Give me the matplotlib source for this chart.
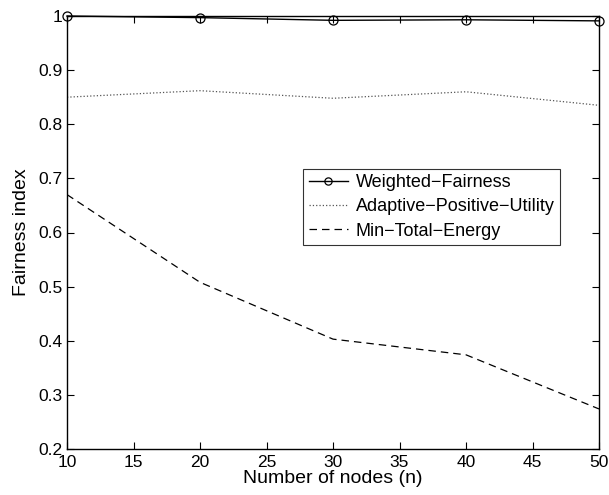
import matplotlib
matplotlib.use("Agg")
import matplotlib.pyplot as plt

plt.rcParams['font.family'] = ['Liberation Sans', 'DejaVu Sans']

# data
nodes = [10, 20, 30, 40, 50]
weighted_fairness = [1.0, 0.997, 0.992, 0.993, 0.991]
adaptive_utility = [0.850, 0.862, 0.848, 0.860, 0.835]
min_energy = [0.670, 0.508, 0.403, 0.374, 0.274]

fig = plt.figure(figsize=(6.09, 4.95), dpi=100)
ax = fig.add_axes([67 / 609, 46 / 495, 532 / 609, 433 / 495])

ax.plot(nodes, weighted_fairness, '-', color='black', lw=1.0, marker='o',
        markersize=6.5, markerfacecolor='none', markeredgewidth=0.9,
        label='Weighted\u2212Fairness', clip_on=False, zorder=3)
ax.plot(nodes, adaptive_utility, ':', color='#555555', lw=0.9,
        label='Adaptive\u2212Positive\u2212Utility')
ax.plot(nodes, min_energy, '--', color='black', lw=0.9,
        dashes=(6, 4), label='Min\u2212Total\u2212Energy')

ax.set_xlim(10, 50)
ax.set_ylim(0.2, 1.0)
ax.set_xticks(range(10, 51, 5))
ax.set_yticks([0.2, 0.3, 0.4, 0.5, 0.6, 0.7, 0.8, 0.9, 1.0])
ax.set_yticklabels(['0.2', '0.3', '0.4', '0.5', '0.6', '0.7', '0.8', '0.9', '1'])
ax.tick_params(direction='in', top=True, right=True, length=5, width=0.8,
               labelsize=12.5)
ax.tick_params(axis='x', pad=4)
ax.tick_params(axis='y', pad=3)
for s in ax.spines.values():
    s.set_linewidth(1.0)

ax.set_xlabel('Number of nodes (n)', fontsize=14, labelpad=0)
ax.set_ylabel('Fairness index', fontsize=14, labelpad=6)

leg = ax.legend(loc='upper left', bbox_to_anchor=(0.444, 0.647), fontsize=13,
                frameon=True, fancybox=False, borderpad=0.3, labelspacing=0.4,
                handlelength=2.2, handletextpad=0.4, borderaxespad=0,
                markerscale=0.8)
leg.get_frame().set_edgecolor('black')
leg.get_frame().set_linewidth(0.8)

fig.savefig('out.png', dpi=100)
